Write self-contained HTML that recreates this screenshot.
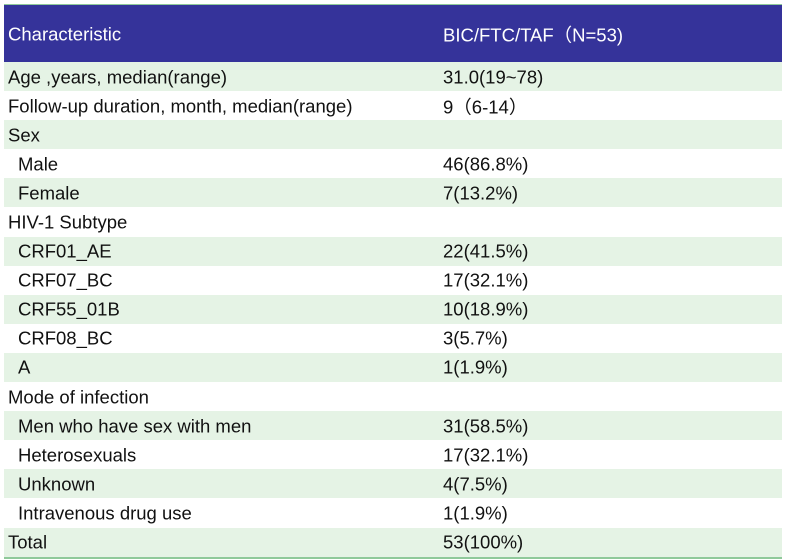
<!DOCTYPE html>
<html><head><style>
body{margin:0;width:786px;height:560px;background:#fff;font-family:"Liberation Sans",Arial,sans-serif;position:relative;overflow:hidden}
.t{position:absolute;left:4px;top:4px;width:778px;border-top:1px solid #8fc99a;border-bottom:2px solid #8fc99a}
.h{height:57px;background:#35339a;color:#fff;font-size:18.5px;position:relative}
.r{height:29.1px;position:relative;font-size:18.5px;color:#111}
.g{background:#e5f3e5}
.a{position:absolute;left:4px;top:50%;transform:translateY(-48%)}
.b{position:absolute;left:439px;top:50%;transform:translateY(-48%)}
.i{left:14px}
</style></head><body>
<div class="t">
<div class="h"><span class="a">Characteristic</span><span class="b">BIC/FTC/TAF（N=53)</span></div>
<div class="r g"><span class="a">Age ,years, median(range)</span><span class="b">31.0(19~78)</span></div>
<div class="r"><span class="a">Follow-up duration, month, median(range)</span><span class="b">9（6-14）</span></div>
<div class="r g"><span class="a">Sex</span></div>
<div class="r"><span class="a i">Male</span><span class="b">46(86.8%)</span></div>
<div class="r g"><span class="a i">Female</span><span class="b">7(13.2%)</span></div>
<div class="r"><span class="a">HIV-1 Subtype</span></div>
<div class="r g"><span class="a i">CRF01_AE</span><span class="b">22(41.5%)</span></div>
<div class="r"><span class="a i">CRF07_BC</span><span class="b">17(32.1%)</span></div>
<div class="r g"><span class="a i">CRF55_01B</span><span class="b">10(18.9%)</span></div>
<div class="r"><span class="a i">CRF08_BC</span><span class="b">3(5.7%)</span></div>
<div class="r g"><span class="a i">A</span><span class="b">1(1.9%)</span></div>
<div class="r"><span class="a">Mode of infection</span></div>
<div class="r g"><span class="a i">Men who have sex with men</span><span class="b">31(58.5%)</span></div>
<div class="r"><span class="a i">Heterosexuals</span><span class="b">17(32.1%)</span></div>
<div class="r g"><span class="a i">Unknown</span><span class="b">4(7.5%)</span></div>
<div class="r"><span class="a i">Intravenous drug use</span><span class="b">1(1.9%)</span></div>
<div class="r g"><span class="a">Total</span><span class="b">53(100%)</span></div>
</div>
</body></html>
